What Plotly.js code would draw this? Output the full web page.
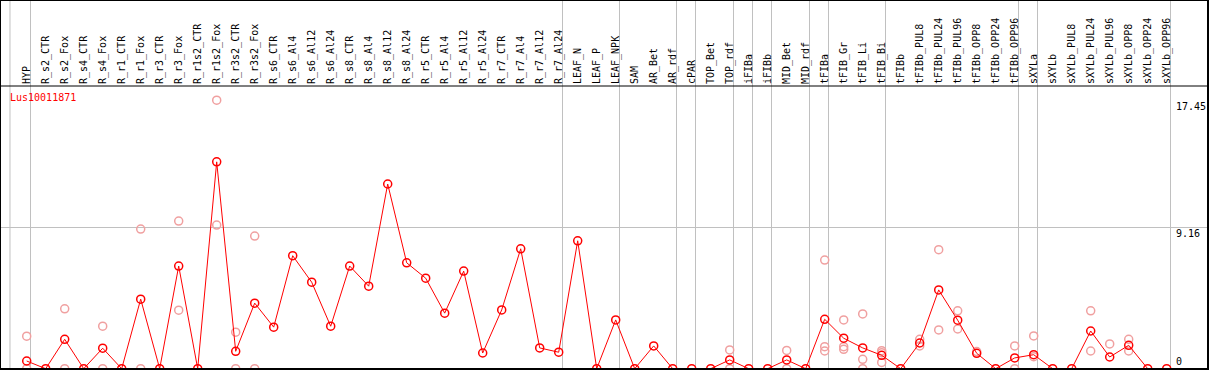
<!DOCTYPE html>
<html>
<head>
<meta charset="utf-8">
<script src="https://cdn.plot.ly/plotly-3.0.1.min.js"></script>
<style>html,body{margin:0;padding:0;background:#fff;}#chart{width:1209px;height:370px;}</style>
</head>
<body>
<div id="chart"></div>
<script>
const _ = null;
const geneName = 'Lus10011871';
const categories = ['HYP','R_s2_CTR','R_s2_Fox','R_s4_CTR','R_s4_Fox','R_r1_CTR','R_r1_Fox','R_r3_CTR','R_r3_Fox','R_r1s2_CTR',
  'R_r1s2_Fox','R_r3s2_CTR','R_r3s2_Fox','R_s6_CTR','R_s6_Al4','R_s6_Al12','R_s6_Al24','R_s8_CTR','R_s8_Al4','R_s8_Al12',
  'R_s8_Al24','R_r5_CTR','R_r5_Al4','R_r5_Al12','R_r5_Al24','R_r7_CTR','R_r7_Al4','R_r7_Al12','R_r7_Al24','LEAF_N',
  'LEAF_P','LEAF_NPK','SAM','AR_Bet','AR_rdf','cPAR','TOP_Bet','TOP_rdf','iFIBa','iFIBb',
  'MID_Bet','MID_rdf','tFIBa','tFIB_Gr','tFIB_Li','tFIB_Bi','tFIBb','tFIBb_PUL8','tFIBb_PUL24','tFIBb_PUL96',
  'tFIBb_OPP8','tFIBb_OPP24','tFIBb_OPP96','sXYLa','sXYLb','sXYLb_PUL8','sXYLb_PUL24','sXYLb_PUL96','sXYLb_OPP8','sXYLb_OPP24',
  'sXYLb_OPP96'];
const groupSizes = [1, 28, 3, 3, 1, 2, 1, 1, 2, 1, 3, 7, 1, 7];
const meanValues = [0.50,0,1.91,0,1.33,0,4.52,0,6.67,0,
  13.44,1.13,4.26,2.70,7.34,5.62,2.76,6.67,5.36,12.00,
  6.88,5.88,3.61,6.34,1.02,3.82,7.79,1.35,1.07,8.31,
  0,3.17,0,1.48,0,0,0,0.57,0,0,
  0.57,0,3.21,1.98,1.35,0.87,0,1.67,5.12,3.15,
  1.00,0,0.70,0.91,0,0,2.45,0.76,1.52,0,
  0];
const rep1 = [2.11,_,3.89,_,2.76,_,9.07,_,9.59,_,
  17.45,2.37,8.62,_,_,_,_,_,_,_,
  _,_,_,_,_,_,_,_,_,_,
  _,_,_,_,_,_,_,1.22,_,_,
  1.19,_,7.06,3.17,3.56,1.17,_,1.91,7.73,3.76,
  1.11,_,1.48,2.13,_,_,3.76,1.61,1.91,_,
  _];
const rep2 = [0,_,0,_,0,_,0,_,3.80,_,
  9.33,0,0,_,_,_,_,_,_,_,
  _,_,_,_,_,_,_,_,_,_,
  _,_,_,_,_,_,_,0,_,_,
  0,_,1.43,1.43,0.61,1.04,_,1.48,2.52,2.58,
  _,_,0,0.78,_,_,1.15,_,1.15,_,
  _];
const rep3 = [_,_,_,_,_,_,_,_,_,_,
  _,_,_,_,_,_,_,_,_,_,
  _,_,_,_,_,_,_,_,_,_,
  _,_,_,_,_,_,_,_,_,_,
  _,_,1.15,1.26,0,0.41,_,_,_,_,
  _,_,_,_,_,_,_,_,_,_,
  _];
const yTickVals = [0, 9.16, 17.45];
const yTickText = ['0', '9.16', '17.45'];

const idx = categories.map((c, i) => i);
const repX = [], repY = [];
[rep1, rep2, rep3].forEach(r => r.forEach((v, i) => { if (v !== null) { repX.push(i); repY.push(v); } }));

const W = 1209, H = 370, mT = 86, mB = 1, mL = 0, mR = 1;
const plotW = W - mL - mR, plotH = H - mT - mB;
const step = 19, firstPx = 26.7;
const xRange = [-firstPx / step, (plotW - firstPx) / step];
const pxPerUnit = 15.39;
const yRange = [-0.02, -0.02 + plotH / pxPerUnit];
const mono = 'DejaVu Sans Mono, monospace';
const topPaper = (H - mB) / plotH;

const shapes = [];
let end = -1;
shapes.push({type:'line', xref:'x', yref:'paper', x0:-0.88, x1:-0.88, y0:0, y1:topPaper, line:{color:'#c0c0c0', width:1}, layer:'below'});
groupSizes.forEach(s => {
  end += s;
  shapes.push({type:'line', xref:'x', yref:'paper', x0:end + 0.2, x1:end + 0.2, y0:0, y1:topPaper, line:{color:'#c0c0c0', width:1}, layer:'below'});
});
shapes.push({type:'line', xref:'paper', yref:'paper', x0:0, x1:1, y0:1, y1:1, line:{color:'#000', width:1}});
shapes.push({type:'rect', xref:'paper', yref:'paper', x0:0, x1:1, y0:0, y1:topPaper, line:{color:'#000', width:2}});

const traces = [
  {x: repX, y: repY, type:'scatter', mode:'markers', yaxis:'y', hoverinfo:'skip',
   marker:{symbol:'circle-open', size:8, color:'#f0a0a0', line:{width:1.5, color:'#f0a0a0'}}},
  {x: idx, y: meanValues, type:'scatter', mode:'lines', yaxis:'y2', name: geneName,
   line:{color:'#ff0000', width:1}},
  {x: idx, y: meanValues, type:'scatter', mode:'markers', yaxis:'y3', name: geneName,
   marker:{symbol:'circle-open', size:8, color:'#ff0000', line:{width:1.5, color:'#ff0000'}}}
];

const yBase = {range: yRange, zeroline:false, showline:false, ticks:'', fixedrange:true};
const layout = {
  width: W, height: H,
  margin: {l:mL, r:mR, t:mT, b:mB, pad:0},
  paper_bgcolor:'#fff', plot_bgcolor:'#fff',
  showlegend:false,
  title: {text: geneName, xref:'container', yref:'container', x: 10/W, xanchor:'left', y: 1 - 97/H, yanchor:'middle',
          font:{family: mono, size:10, color:'#ff0000'}},
  xaxis: {range: xRange, side:'top', tickmode:'array', tickvals: idx, ticktext: categories, tickangle:-90,
          tickfont:{family: mono, size:10, color:'#000'}, ticks:'', showgrid:false, zeroline:false, showline:false, fixedrange:true,
          ticklabelstandoff:1},
  yaxis: Object.assign({}, yBase, {tickvals:[yTickVals[1]], showticklabels:false, showgrid:true, gridcolor:'#c0c0c0', gridwidth:1}),
  yaxis2: Object.assign({}, yBase, {overlaying:'y', side:'right', anchor:'free', position: 1175/plotW,
          tickvals: yTickVals.slice(1), ticktext: yTickText.slice(1), showgrid:false, ticklabelshift:6,
          tickfont:{family: mono, size:10, color:'#000'}}),
  yaxis3: Object.assign({}, yBase, {overlaying:'y', side:'right', anchor:'free', position: 1175/plotW,
          tickvals: yTickVals.slice(0,1), ticktext: yTickText.slice(0,1), showgrid:false, ticklabelshift:-7,
          tickfont:{family: mono, size:10, color:'#000'}}),
  shapes: shapes
};
Plotly.newPlot('chart', traces, layout, {staticPlot:true, displayModeBar:false});
</script>
</body>
</html>
